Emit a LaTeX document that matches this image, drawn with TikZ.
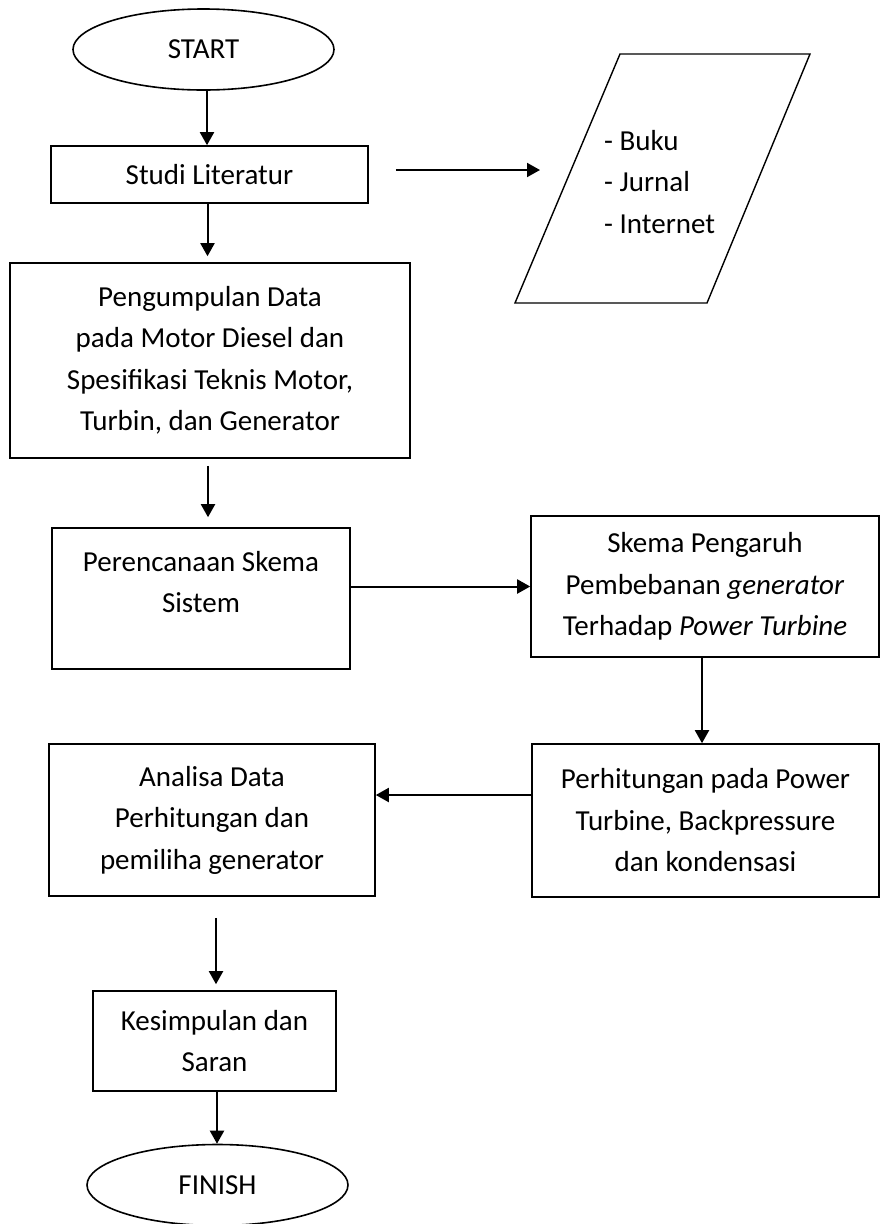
\documentclass[tikz,border=0pt]{standalone}
\usepackage{fontspec}
\setmainfont{Carlito}
\usetikzlibrary{shapes.geometric,arrows.meta}

\begin{document}
\begin{tikzpicture}[x=1pt,y=-1pt,align=center,
    font=\fontsize{29}{41.5}\selectfont,
    box/.style={draw,line width=1.6pt,inner sep=0pt},
    oval/.style={draw,ellipse,line width=1.6pt,minimum width=261pt,minimum height=81pt,inner sep=0pt},
    arr/.style={line width=2pt,-{Triangle[length=13pt,width=14pt]}}]

\useasboundingbox (0,0) rectangle (885,1224);

\node[oval] (start) at (203.5,49.5) {START};

\node[box,minimum width=317pt,minimum height=57pt] (studi) at (209.5,174.5) {Studi Literatur};

\draw[line width=1.4pt] (515,303) -- (620,54) -- (810,54) -- (707,303) -- cycle;
\node[anchor=north west,inner sep=0pt,align=left] (sumber) at (604,130) {- Buku\\- Jurnal\\- Internet};
\coordinate (sumberin) at (540,170);

\node[box,minimum width=400pt,minimum height=195pt] (data) at (210,360.5) {Pengumpulan Data\\pada Motor Diesel dan\\Spesifikasi Teknis Motor,\\Turbin, dan Generator};

\node[box,minimum width=298pt,minimum height=141pt] (renc) at (201,598.5) {};
\node[anchor=north,inner sep=0pt] (renctxt) at (201,551) {Perencanaan Skema\\Sistem};

\node[box,minimum width=348pt,minimum height=141pt] (skema) at (705,586.5) {Skema Pengaruh\\Pembebanan \textit{generator}\\Terhadap \textit{Power Turbine}};

\node[box,minimum width=347pt,minimum height=153pt] (hitung) at (705.5,820.5) {Perhitungan pada Power\\Turbine, Backpressure\\dan kondensasi};

\node[box,minimum width=326pt,minimum height=152pt] (analisa) at (212,820) {Analisa Data\\Perhitungan dan\\pemiliha generator};

\node[box,minimum width=243pt,minimum height=100pt] (simpul) at (214.5,1041) {Kesimpulan dan\\Saran};

\node[oval] (finish) at (217.5,1185) {FINISH};

\draw[arr] ([xshift=3.5pt]start.south) -- ([xshift=3.5pt]start.south |- studi.north);
\draw[arr,shorten >=6pt] ([xshift=-2pt]studi.south) -- ([xshift=-2pt]studi.south |- data.north);
\draw[arr,shorten <=27pt] (studi.east |- sumberin) -- (sumberin);
\draw[arr,shorten <=7pt,shorten >=10pt] ([xshift=-2pt]data.south) -- ([xshift=-2pt]data.south |- renc.north);
\draw[arr] (skema.west -| renc.east) -- (skema.west);
\draw[arr] ([xshift=-3pt]skema.south) -- ([xshift=-3pt]skema.south |- hitung.north);
\draw[arr] ([yshift=25.5pt]hitung.west) -- ([yshift=25.5pt]hitung.west -| analisa.east);
\draw[arr,shorten <=21pt,shorten >=6pt] ([xshift=4pt]analisa.south) -- ([xshift=4pt]analisa.south |- simpul.north);
\draw[arr] ([xshift=2.5pt]simpul.south) -- ([xshift=2.5pt]simpul.south |- finish.north);

\end{tikzpicture}
\end{document}
